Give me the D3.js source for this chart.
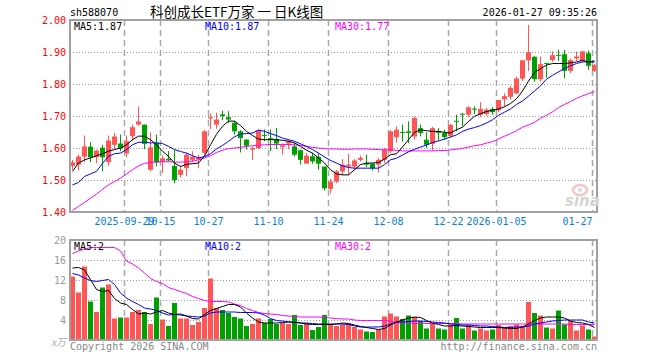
<!DOCTYPE html>
<html>
<head>
<meta charset="utf-8">
<script src="https://cdn.jsdelivr.net/npm/d3@7"></script>
<style>
  body { margin: 0; background: #fff; }
  svg { display: block; }
  text { font-family: "DejaVu Sans Mono", "Liberation Mono", monospace; font-size: 10px; }
</style>
</head>
<body>
<script>
//svg dimensions
var width = 660,
    height = 360;

//trading days shown on the chart
var dates = [
  '2025-09-16','2025-09-17','2025-09-18','2025-09-19','2025-09-22','2025-09-23','2025-09-24','2025-09-25','2025-09-26','2025-09-29',
  '2025-09-30','2025-10-09','2025-10-10','2025-10-13','2025-10-14','2025-10-15','2025-10-16','2025-10-17','2025-10-20','2025-10-21',
  '2025-10-22','2025-10-23','2025-10-24','2025-10-27','2025-10-28','2025-10-29','2025-10-30','2025-10-31','2025-11-03','2025-11-04',
  '2025-11-05','2025-11-06','2025-11-07','2025-11-10','2025-11-11','2025-11-12','2025-11-13','2025-11-14','2025-11-17','2025-11-18',
  '2025-11-19','2025-11-20','2025-11-21','2025-11-24','2025-11-25','2025-11-26','2025-11-27','2025-11-28','2025-12-01','2025-12-02',
  '2025-12-03','2025-12-04','2025-12-05','2025-12-08','2025-12-09','2025-12-10','2025-12-11','2025-12-12','2025-12-15','2025-12-16',
  '2025-12-17','2025-12-18','2025-12-19','2025-12-22','2025-12-23','2025-12-24','2025-12-25','2025-12-26','2025-12-29','2025-12-30',
  '2025-12-31','2026-01-05','2026-01-06','2026-01-07','2026-01-08','2026-01-09','2026-01-12','2026-01-13','2026-01-14','2026-01-15',
  '2026-01-16','2026-01-19','2026-01-20','2026-01-21','2026-01-22','2026-01-23','2026-01-26','2026-01-27'
];

var opens = [
  1.544,1.548,1.573,1.604,1.571,1.601,1.556,1.610,1.614,1.583,
  1.637,1.673,1.673,1.532,1.616,1.558,1.566,1.544,1.516,1.537,
  1.563,1.564,1.585,1.692,1.673,1.705,1.696,1.679,1.652,1.626,
  1.595,1.600,1.641,1.631,1.628,1.603,1.614,1.605,1.593,1.551,
  1.574,1.572,1.542,1.472,1.495,1.527,1.542,1.542,1.563,1.553,
  1.551,1.548,1.563,1.590,1.634,1.650,1.652,1.636,1.662,1.626,
  1.613,1.652,1.647,1.638,1.685,1.707,1.704,1.723,1.704,1.706,
  1.722,1.718,1.752,1.760,1.771,1.817,1.874,1.885,1.815,1.866,
  1.875,1.891,1.893,1.841,1.880,1.872,1.896,1.841
];
var highs = [
  1.563,1.579,1.639,1.618,1.595,1.610,1.639,1.647,1.642,1.639,
  1.673,1.730,1.673,1.649,1.642,1.576,1.590,1.593,1.544,1.586,
  1.590,1.579,1.656,1.708,1.710,1.717,1.715,1.684,1.656,1.628,
  1.605,1.658,1.658,1.658,1.663,1.614,1.626,1.616,1.595,1.584,
  1.584,1.584,1.542,1.503,1.532,1.565,1.582,1.565,1.576,1.579,
  1.553,1.569,1.600,1.656,1.668,1.673,1.683,1.697,1.673,1.649,
  1.666,1.662,1.657,1.675,1.704,1.709,1.730,1.730,1.743,1.725,
  1.728,1.751,1.771,1.794,1.823,1.875,1.985,1.888,1.886,1.866,
  1.902,1.907,1.907,1.880,1.901,1.904,1.904,1.862
];
var lows = [
  1.532,1.530,1.556,1.556,1.553,1.527,1.544,1.597,1.590,1.571,
  1.623,1.670,1.597,1.527,1.542,1.521,1.558,1.490,1.508,1.512,
  1.555,1.537,1.580,1.659,1.660,1.687,1.679,1.642,1.586,1.595,
  1.563,1.597,1.621,1.590,1.597,1.579,1.597,1.574,1.548,1.551,
  1.551,1.532,1.467,1.458,1.490,1.516,1.516,1.532,1.558,1.540,
  1.530,1.523,1.553,1.584,1.617,1.620,1.615,1.626,1.636,1.600,
  1.592,1.623,1.626,1.634,1.652,1.668,1.697,1.706,1.697,1.701,
  1.704,1.712,1.729,1.752,1.768,1.809,1.841,1.807,1.807,1.820,
  1.869,1.872,1.817,1.834,1.872,1.867,1.844,1.838
];
var closes = [
  1.555,1.573,1.605,1.571,1.592,1.571,1.623,1.636,1.598,1.621,
  1.665,1.683,1.613,1.602,1.555,1.568,1.561,1.500,1.532,1.579,
  1.573,1.570,1.652,1.696,1.689,1.700,1.689,1.652,1.631,1.607,
  1.600,1.654,1.638,1.626,1.614,1.608,1.621,1.579,1.563,1.576,
  1.558,1.551,1.474,1.495,1.527,1.548,1.548,1.561,1.569,1.548,
  1.537,1.563,1.595,1.652,1.657,1.647,1.647,1.694,1.647,1.610,
  1.662,1.647,1.634,1.672,1.683,1.704,1.727,1.720,1.722,1.720,
  1.712,1.750,1.762,1.788,1.817,1.874,1.899,1.815,1.862,1.864,
  1.890,1.889,1.841,1.875,1.886,1.902,1.857,1.859
];

//price moving averages as drawn
var ma5 = [
  1.527,1.553,1.563,1.569,1.576,1.582,1.590,1.595,1.600,1.610,
  1.626,1.637,1.637,1.626,1.610,1.590,1.574,1.553,1.542,1.549,
  1.551,1.553,1.575,1.610,1.643,1.668,1.684,1.684,1.670,1.652,
  1.639,1.628,1.626,1.626,1.626,1.624,1.621,1.616,1.605,1.593,
  1.584,1.569,1.553,1.532,1.519,1.516,1.516,1.532,1.548,1.553,
  1.553,1.555,1.565,1.579,1.582,1.603,1.626,1.649,1.657,1.654,
  1.652,1.652,1.649,1.647,1.657,1.665,1.683,1.699,1.707,1.714,
  1.718,1.722,1.729,1.739,1.754,1.778,1.809,1.836,1.848,1.859,
  1.864,1.864,1.864,1.866,1.869,1.874,1.869,1.869
];
var ma10 = [
  1.485,1.492,1.511,1.519,1.527,1.552,1.574,1.582,1.584,1.595,
  1.610,1.618,1.618,1.616,1.616,1.614,1.605,1.595,1.589,1.584,
  1.576,1.569,1.573,1.582,1.597,1.608,1.621,1.635,1.644,1.645,
  1.647,1.656,1.652,1.645,1.639,1.631,1.626,1.621,1.613,1.605,
  1.595,1.584,1.572,1.561,1.553,1.544,1.539,1.537,1.537,1.537,
  1.537,1.537,1.548,1.563,1.568,1.578,1.588,1.596,1.603,1.609,
  1.617,1.622,1.628,1.634,1.641,1.652,1.659,1.664,1.670,1.678,
  1.688,1.702,1.712,1.722,1.736,1.747,1.762,1.778,1.794,1.815,
  1.827,1.838,1.848,1.857,1.864,1.869,1.869,1.872
];
var ma30 = [
  1.405,1.417,1.430,1.443,1.456,1.471,1.485,1.495,1.506,1.519,
  1.532,1.544,1.552,1.555,1.556,1.557,1.557,1.556,1.556,1.557,
  1.559,1.563,1.569,1.576,1.586,1.593,1.598,1.600,1.602,1.605,
  1.607,1.609,1.610,1.611,1.611,1.611,1.611,1.610,1.608,1.605,
  1.602,1.600,1.598,1.597,1.597,1.596,1.596,1.597,1.597,1.597,
  1.596,1.595,1.594,1.595,1.592,1.591,1.591,1.591,1.591,1.591,
  1.591,1.592,1.592,1.594,1.596,1.599,1.603,1.607,1.610,1.615,
  1.620,1.628,1.637,1.645,1.654,1.665,1.672,1.680,1.693,1.702,
  1.713,1.726,1.736,1.745,1.755,1.763,1.770,1.776
];

//volume, x万
var volumes = [
  12.7,9.5,14.7,7.7,5.6,10.5,11.1,4.3,4.5,4.5,
  5.6,6.0,5.6,3.2,8.5,4.1,2.8,7.4,4.3,4.3,
  3.0,3.6,6.4,12.3,6.4,6.0,5.4,4.6,4.3,2.8,
  3.2,4.3,3.4,4.2,3.2,3.4,3.2,5.0,3.0,3.4,
  2.0,2.6,5.0,3.1,2.8,3.1,3.3,2.6,2.1,1.7,
  1.6,2.1,4.7,5.3,4.7,4.2,4.9,4.6,3.8,2.3,
  3.4,2.3,2.1,3.1,4.4,2.3,3.0,1.9,2.3,1.9,
  2.1,3.0,2.5,2.8,3.1,2.8,7.6,5.4,4.9,2.5,
  2.3,5.9,3.1,3.8,1.9,2.9,2.1,0.7
];
var volMa5 = [
  14.4,14.5,14.0,12.1,10.1,9.7,9.9,8.3,7.4,7.1,
  6.1,5.2,5.4,5.2,5.6,5.9,5.4,5.1,5.2,4.8,
  4.3,4.2,5.1,5.9,6.3,6.7,7.1,7.1,6.6,5.4,
  4.4,3.6,3.4,3.4,3.4,3.5,3.6,3.5,3.4,3.2,
  3.1,3.1,3.1,3.1,3.2,3.4,3.3,3.0,2.7,2.5,
  2.3,2.1,2.3,3.0,3.6,4.0,4.4,4.6,4.5,3.9,
  3.4,3.1,2.8,2.8,2.9,2.8,2.7,2.6,2.5,2.5,
  2.5,2.5,2.4,2.3,2.3,2.6,3.2,3.9,4.4,4.6,
  4.6,4.6,4.4,3.8,3.5,3.4,3.1,2.5
];
var volMa10 = [
  13.3,13.0,12.4,11.9,11.7,11.9,12.1,11.1,9.4,8.4,
  7.7,7.1,6.4,6.2,5.9,5.4,5.0,5.1,5.0,4.8,
  4.7,4.6,4.8,5.4,5.6,5.6,5.6,5.6,5.5,5.5,
  5.5,5.4,5.0,4.3,3.9,3.8,3.6,3.6,3.4,3.4,
  3.3,3.2,3.2,3.2,3.2,3.2,3.1,2.8,2.6,2.6,
  2.6,2.6,2.8,3.2,3.6,3.6,3.7,3.8,3.8,3.7,
  3.6,3.5,3.4,3.2,3.1,3.0,3.0,2.9,2.8,2.8,
  2.7,2.6,2.5,2.5,2.6,2.6,2.8,3.2,3.4,3.6,
  3.8,3.9,4.0,4.0,4.0,4.0,3.6,3.4
];
var volMa30 = [
  17.3,17.8,18.2,18.5,18.5,18.5,18.5,18.5,17.8,15.8,
  15.2,14.4,13.4,12.3,11.7,11.3,10.5,10.1,9.7,9.3,
  8.7,8.3,7.9,7.7,7.7,7.7,7.6,7.2,6.9,6.3,
  5.9,5.5,5.3,5.2,5.1,4.9,4.8,4.7,4.6,4.6,
  4.6,4.6,4.5,4.4,4.3,4.2,4.2,4.0,3.9,3.9,
  3.9,3.9,3.9,3.8,3.5,3.4,3.4,3.3,3.3,3.3,
  3.3,3.3,3.3,3.3,3.3,3.2,3.2,3.2,3.2,3.2,
  3.2,3.2,3.2,3.2,3.2,3.2,3.2,3.2,3.2,3.2,
  3.2,3.2,3.2,3.1,3.1,3.1,3.1,3.1
];

//axis ticks
var tickDates = ['2025-09-29','2025-10-15','2025-10-27','2025-11-10','2025-11-24','2025-12-08','2025-12-22','2026-01-05','2026-01-27'];
var tickLabels = ['2025-09-29','10-15','10-27','11-10','11-24','12-08','12-22','2026-01-05','01-27'];
var priceTicks = [1.4, 1.5, 1.6, 1.7, 1.8, 1.9, 2.0];
var volTicks = [4, 8, 12, 16, 20];

//colours
var up = '#ff5555',
    down = '#00a000',
    gridColor = '#a8a8a8';

var svg = d3.select('body')
  .append('svg')
  .attr('width', width)
  .attr('height', height);

//scales
var x = d3.scaleBand().domain(dates).range([70, 598]);
var y = d3.scaleLinear().domain([1.4, 2.0]).range([212, 20]);
var yv = d3.scaleLinear().domain([0, 20]).range([340, 240]);

var cx = function(d) { return x(d) + 2.5; };
var isUp = function(i) { return closes[i] >= opens[i]; };

//header texts
svg.append('text').attr('x', 70).attr('y', 16).text('sh588070');
svg.append('text').attr('x', 150).attr('y', 17)
  .style('font-family', '"Noto Sans CJK SC", sans-serif')
  .style('font-size', '13.5px')
  .style('white-space', 'pre')
  .text('科创成长ETF万家 一 日K线图');
svg.append('text').attr('x', 597).attr('y', 16).attr('text-anchor', 'end')
  .text('2026-01-27 09:35:26');

//---------- price panel ----------
var price = svg.append('g');

//horizontal dotted grid
price.selectAll('.hgrid')
  .data(priceTicks.slice(1, -1))
  .enter().append('line')
  .attr('x1', 70).attr('x2', 597)
  .attr('y1', function(d) { return Math.round(y(d)) + 0.5; })
  .attr('y2', function(d) { return Math.round(y(d)) + 0.5; })
  .attr('stroke', '#999').attr('stroke-dasharray', '1,2');

//vertical dashed grid
price.selectAll('.vgrid')
  .data(tickDates)
  .enter().append('line')
  .attr('x1', function(d) { return x(d) + 0.5; })
  .attr('x2', function(d) { return x(d) + 0.5; })
  .attr('y1', 20).attr('y2', 212)
  .attr('stroke', gridColor).attr('stroke-width', 1.5)
  .attr('stroke-dasharray', '6,4');

//price axis labels
var yAxis = d3.axisLeft(y)
  .tickValues(priceTicks)
  .tickSize(0)
  .tickPadding(4)
  .tickFormat(d3.format('.2f'));
price.append('g')
  .attr('transform', 'translate(70,0)')
  .call(yAxis)
  .call(function(g) { g.select('.domain').remove(); })
  .selectAll('text')
  .attr('fill', '#f00')
  .style('font-family', '"DejaVu Sans Mono", monospace')
  .style('font-size', '10px');

//date labels, the last one is kept inside the frame
var xAxis = d3.axisBottom(x)
  .tickValues(tickDates)
  .tickSize(0)
  .tickPadding(6)
  .tickFormat(function(d) { return tickLabels[tickDates.indexOf(d)]; });
price.append('g')
  .attr('transform', 'translate(-2.5,212)')
  .call(xAxis)
  .call(function(g) { g.select('.domain').remove(); })
  .selectAll('text')
  .attr('fill', '#0a7fd4')
  .attr('text-anchor', function(d) { return d === tickDates[tickDates.length - 1] ? 'end' : 'middle'; })
  .attr('dx', function(d) { return d === tickDates[tickDates.length - 1] ? 0 : null; })
  .style('font-family', '"DejaVu Sans Mono", monospace')
  .style('font-size', '10px');

//sina watermark
var mark = svg.append('g');
mark.append('ellipse').attr('cx', 580).attr('cy', 190).attr('rx', 7).attr('ry', 5)
  .attr('fill', 'none').attr('stroke', '#f6c4c4').attr('stroke-width', 2.5);
mark.append('circle').attr('cx', 580).attr('cy', 190).attr('r', 2).attr('fill', '#d8d8d8');
mark.append('text').attr('x', 565).attr('y', 206)
  .style('font-family', '"DejaVu Sans", sans-serif')
  .style('font-size', '15px').style('font-style', 'italic').style('font-weight', 'bold')
  .attr('fill', '#d4d4d4').text('sina');

//candles
var candles = price.selectAll('.candle')
  .data(dates)
  .enter().append('g');

candles.append('line')
  .attr('x1', cx).attr('x2', cx)
  .attr('y1', function(d, i) { return y(highs[i]); })
  .attr('y2', function(d, i) { return y(lows[i]); })
  .attr('stroke', function(d, i) { return isUp(i) ? up : down; });

candles.append('rect')
  .attr('x', function(d) { return x(d); })
  .attr('width', 5)
  .attr('y', function(d, i) { return y(Math.max(opens[i], closes[i])); })
  .attr('height', function(d, i) { return Math.max(1, Math.abs(y(opens[i]) - y(closes[i]))); })
  .attr('fill', function(d, i) { return isUp(i) ? up : down; });

//moving average lines
var priceLine = d3.line()
  .x(function(d, i) { return cx(dates[i]); })
  .y(function(d) { return y(d); });

[[ma30, '#ff00ff'], [ma10, '#0000ff'], [ma5, '#000']].forEach(function(s) {
  price.append('path')
    .datum(s[0])
    .attr('d', priceLine)
    .attr('fill', 'none')
    .attr('stroke', s[1])
    .attr('stroke-width', 1);
});

//border
price.append('rect')
  .attr('x', 70).attr('y', 20).attr('width', 527).attr('height', 192)
  .attr('fill', 'none').attr('stroke', '#a0a0a0').attr('stroke-width', 2);

//legend
svg.append('text').attr('x', 74).attr('y', 30).attr('fill', '#000').text('MA5:1.87');
svg.append('text').attr('x', 205).attr('y', 30).attr('fill', '#0000ff').text('MA10:1.87');
svg.append('text').attr('x', 335).attr('y', 30).attr('fill', '#ff00ff').text('MA30:1.77');

//---------- volume panel ----------
var vol = svg.append('g');

vol.selectAll('.hgrid')
  .data(volTicks.slice(0, -1))
  .enter().append('line')
  .attr('x1', 70).attr('x2', 597)
  .attr('y1', function(d) { return Math.round(yv(d)) + 0.5; })
  .attr('y2', function(d) { return Math.round(yv(d)) + 0.5; })
  .attr('stroke', '#999').attr('stroke-dasharray', '1,2');

vol.selectAll('.vgrid')
  .data(tickDates)
  .enter().append('line')
  .attr('x1', function(d) { return x(d) + 0.5; })
  .attr('x2', function(d) { return x(d) + 0.5; })
  .attr('y1', 240).attr('y2', 340)
  .attr('stroke', gridColor).attr('stroke-width', 1.5)
  .attr('stroke-dasharray', '6,4');

var yvAxis = d3.axisLeft(yv)
  .tickValues(volTicks)
  .tickSize(0)
  .tickPadding(4);
vol.append('g')
  .attr('transform', 'translate(70,0)')
  .call(yvAxis)
  .call(function(g) { g.select('.domain').remove(); })
  .selectAll('text')
  .attr('fill', '#999')
  .style('font-family', '"DejaVu Sans Mono", monospace')
  .style('font-size', '10px');

svg.append('text').attr('x', 66).attr('y', 346).attr('text-anchor', 'end')
  .attr('fill', '#aaa')
  .style('font-family', '"Noto Sans CJK SC", sans-serif')
  .style('font-style', 'italic')
  .style('font-size', '10px')
  .text('x万');

vol.selectAll('.bar')
  .data(dates)
  .enter().append('rect')
  .attr('x', function(d) { return x(d); })
  .attr('width', 5)
  .attr('y', function(d, i) { return yv(volumes[i]); })
  .attr('height', function(d, i) { return yv(0) - yv(volumes[i]); })
  .attr('fill', function(d, i) { return isUp(i) ? up : down; });

var volLine = d3.line()
  .x(function(d, i) { return cx(dates[i]); })
  .y(function(d) { return yv(d); });

[[volMa30, '#ff00ff'], [volMa10, '#0000ff'], [volMa5, '#000']].forEach(function(s) {
  vol.append('path')
    .datum(s[0])
    .attr('d', volLine)
    .attr('fill', 'none')
    .attr('stroke', s[1])
    .attr('stroke-width', 1);
});

vol.append('rect')
  .attr('x', 70).attr('y', 240).attr('width', 527).attr('height', 100)
  .attr('fill', 'none').attr('stroke', '#a0a0a0').attr('stroke-width', 2);

svg.append('text').attr('x', 74).attr('y', 250).attr('fill', '#000').text('MA5:2');
svg.append('text').attr('x', 205).attr('y', 250).attr('fill', '#0000ff').text('MA10:2');
svg.append('text').attr('x', 335).attr('y', 250).attr('fill', '#ff00ff').text('MA30:2');

//footer
svg.append('text').attr('x', 70).attr('y', 350).attr('fill', '#888').text('Copyright 2026 SINA.COM');
svg.append('text').attr('x', 597).attr('y', 350).attr('text-anchor', 'end')
  .attr('fill', '#888').text('http://finance.sina.com.cn');
</script>
</body>
</html>
